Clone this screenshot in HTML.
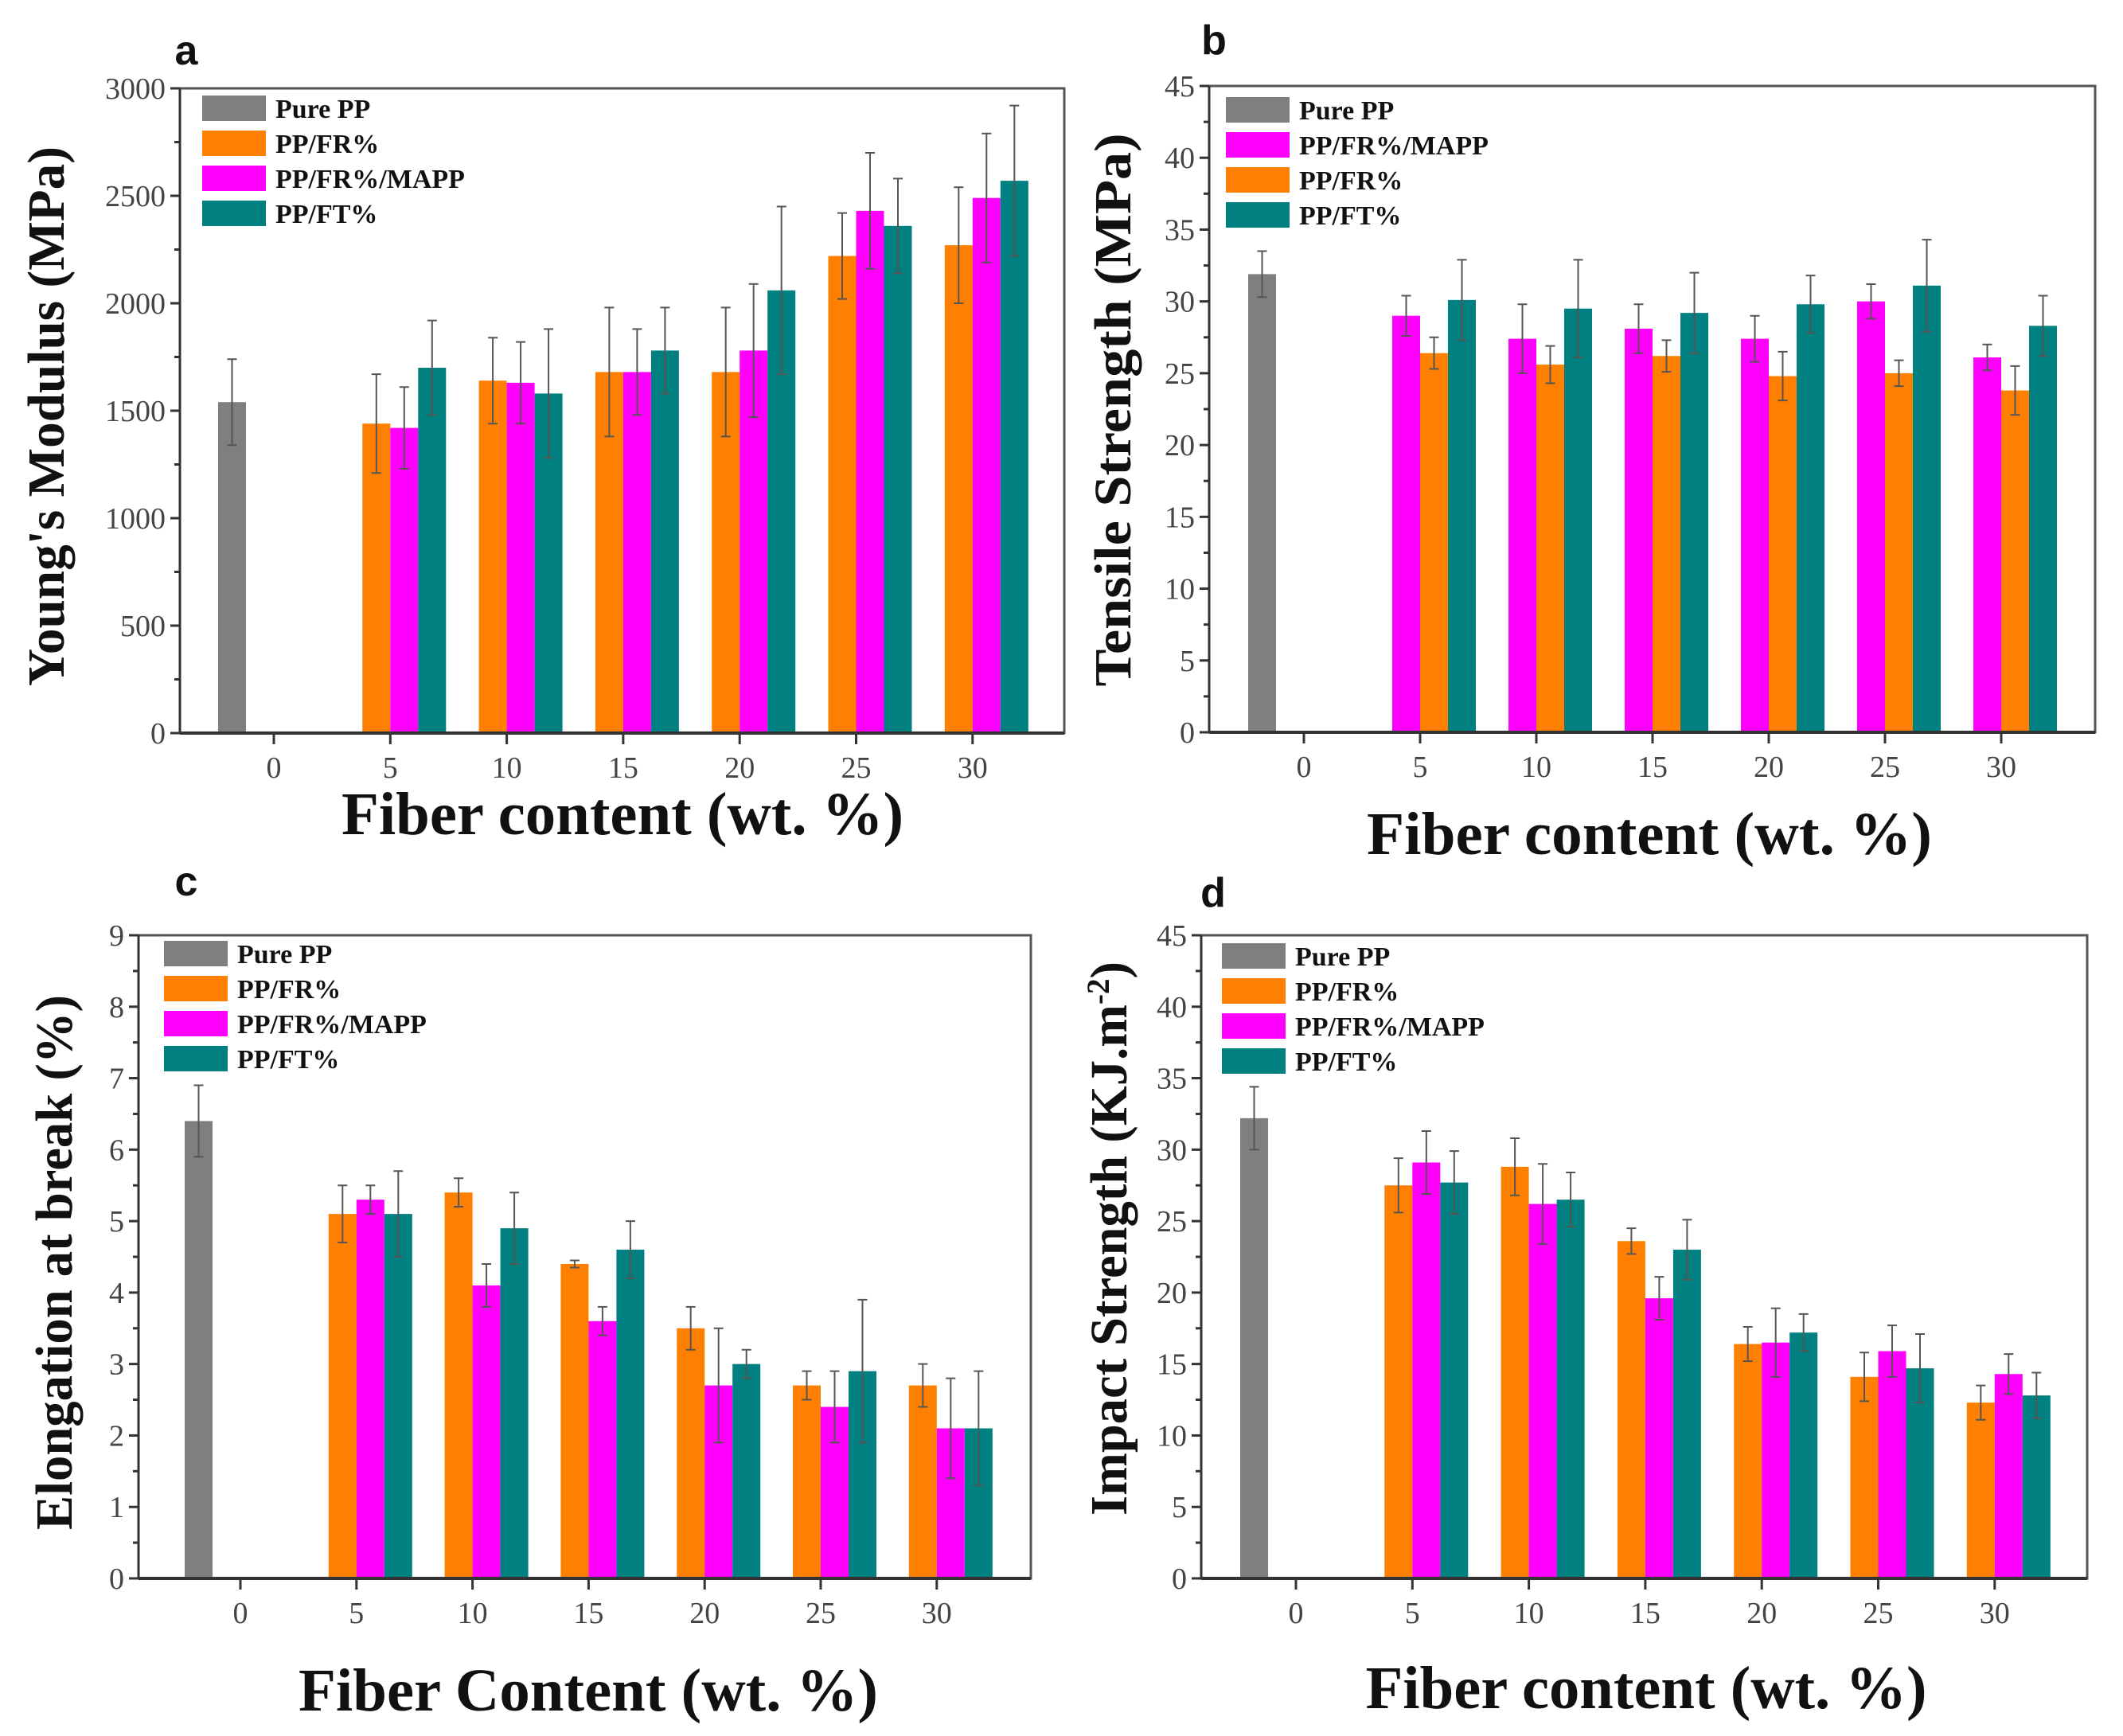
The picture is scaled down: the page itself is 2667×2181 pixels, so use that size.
<!DOCTYPE html>
<html><head><meta charset="utf-8">
<style>
html,body{margin:0;padding:0;background:#fff;}
svg{display:block;}
text{font-family:"Liberation Serif",serif;}
</style></head>
<body>
<svg id="fig" width="2667" height="2181" viewBox="0 0 2667 2181" xmlns="http://www.w3.org/2000/svg"></svg>
<script>
const categories = [0, 5, 10, 15, 20, 25, 30];
const seriesNames = ["Pure PP", "PP/FR%", "PP/FR%/MAPP", "PP/FT%"];
// Panel a: Young's modulus
const aPure = [1540]; const aPureErr = [200];
const aFR = [1440, 1640, 1680, 1680, 2220, 2270];
const aFRErr = [230, 200, 300, 300, 200, 270];
const aMAPP = [1420, 1630, 1680, 1780, 2430, 2490];
const aMAPPErr = [190, 190, 200, 310, 270, 300];
const aFT = [1700, 1580, 1780, 2060, 2360, 2570];
const aFTErr = [220, 300, 200, 390, 220, 350];
const aTicks = [0, 500, 1000, 1500, 2000, 2500, 3000];
// Panel b: tensile strength
const bPure = [31.9]; const bPureErr = [1.6];
const bMAPP = [29.0, 27.4, 28.1, 27.4, 30.0, 26.1];
const bMAPPErr = [1.4, 2.4, 1.7, 1.6, 1.2, 0.9];
const bFR = [26.4, 25.6, 26.2, 24.8, 25.0, 23.8];
const bFRErr = [1.1, 1.3, 1.1, 1.7, 0.9, 1.7];
const bFT = [30.1, 29.5, 29.2, 29.8, 31.1, 28.3];
const bFTErr = [2.8, 3.4, 2.8, 2.0, 3.2, 2.1];
const bTicks = [0, 5, 10, 15, 20, 25, 30, 35, 40, 45];
// Panel c: elongation
const cPure = [6.4]; const cPureErr = [0.5];
const cFR = [5.1, 5.4, 4.4, 3.5, 2.7, 2.7];
const cFRErr = [0.4, 0.2, 0.05, 0.3, 0.2, 0.3];
const cMAPP = [5.3, 4.1, 3.6, 2.7, 2.4, 2.1];
const cMAPPErr = [0.2, 0.3, 0.2, 0.8, 0.5, 0.7];
const cFT = [5.1, 4.9, 4.6, 3.0, 2.9, 2.1];
const cFTErr = [0.6, 0.5, 0.4, 0.2, 1.0, 0.8];
const cTicks = [0, 1, 2, 3, 4, 5, 6, 7, 8, 9];
// Panel d: impact strength
const dPure = [32.2]; const dPureErr = [2.2];
const dFR = [27.5, 28.8, 23.6, 16.4, 14.1, 12.3];
const dFRErr = [1.9, 2.0, 0.9, 1.2, 1.7, 1.2];
const dMAPP = [29.1, 26.2, 19.6, 16.5, 15.9, 14.3];
const dMAPPErr = [2.2, 2.8, 1.5, 2.4, 1.8, 1.4];
const dFT = [27.7, 26.5, 23.0, 17.2, 14.7, 12.8];
const dFTErr = [2.2, 1.9, 2.1, 1.3, 2.4, 1.6];
const dTicks = [0, 5, 10, 15, 20, 25, 30, 35, 40, 45];

const COL = {gray:"#7f7f7f", orange:"#ff8000", magenta:"#ff00ff", teal:"#008080"};
const NS = "http://www.w3.org/2000/svg";
const svg = document.getElementById('fig');
function mk(tag, attrs, parent) {
  const e = document.createElementNS(NS, tag);
  for (const k in attrs) e.setAttribute(k, attrs[k]);
  (parent || svg).appendChild(e);
  return e;
}

function panel(cfg) {
  const g = mk('g', {});
  
  
  const {L, R, T, B, t0, step, ymax} = cfg;
  const y = v => B - (v / ymax) * (B - T);
  const x = c => t0 + (c / 5) * step;
  const w = 35;
  const fr = mk('rect', {x:L, y:T, width:R-L, height:B-T, fill:'none', stroke:'#555', 'stroke-width':3}, g);
  
  
  for (let i = 0; i < cfg.ticks.length; i++) {
    const v = cfg.ticks[i];
    mk('line', {x1:L-12, x2:L, y1:y(v), y2:y(v), stroke:'#333', 'stroke-width':3}, g);
    const t = mk('text', {x:L-18, y:y(v)+13, 'text-anchor':'end', 'font-size':38, fill:'#444'}, g);
    t.textContent = v;
    
    
    if (i < cfg.ticks.length - 1) {
      const mv = (v + cfg.ticks[i+1]) / 2;
      mk('line', {x1:L-7, x2:L, y1:y(mv), y2:y(mv), stroke:'#333', 'stroke-width':3}, g);
    }
  }
  categories.forEach(c => {
    mk('line', {x1:x(c), x2:x(c), y1:B, y2:B+14, stroke:'#333', 'stroke-width':3}, g);
    const t = mk('text', {x:x(c), y:B+56, 'text-anchor':'middle', 'font-size':38, fill:'#444'}, g);
    t.textContent = c;
    
    
  });
  function bar(cat, slot, val, err, color, nm) {
    const cx = x(cat) + (slot - 1.5) * w;
    const r = mk('rect', {x:cx - w/2, y:y(val), width:w, height:B - y(val), fill:color}, g);
    
    
    const e = mk('path', {d:`M${cx},${y(val-err)}V${y(val+err)}M${cx-6},${y(val+err)}H${cx+6}M${cx-6},${y(val-err)}H${cx+6}`, stroke:'#555', 'stroke-width':2, fill:'none'}, g);
    
    
  }
  bar(0, 0, cfg.pure[0], cfg.pureErr[0], COL.gray, 'bar-pure-pp');
  cfg.series.forEach((s, si) => {
    s.vals.forEach((v, i) => bar(categories[i+1], si+1, v, s.errs[i], s.color, 'bar-' + s.key + '-' + categories[i+1]));
  });
  mk('line', {x1:L, x2:L, y1:T, y2:B, stroke:'#333', 'stroke-width':3}, g);
  mk('line', {x1:L, x2:R, y1:B, y2:B, stroke:'#333', 'stroke-width':4}, g);
  cfg.legend.forEach((it, i) => {
    const ly = cfg.legY + i * 44;
    const b = mk('rect', {x:cfg.legX, y:ly-16, width:80, height:32, fill:it[1]}, g);
    
    
    const t = mk('text', {x:cfg.legX+92, y:ly+12, 'font-size':34, 'font-weight':'bold', fill:'#111'}, g);
    t.textContent = it[0];
    
    
  });
  const yt = mk('text', {x:0, y:0, 'text-anchor':'middle', 'font-size':66, 'font-weight':'bold', fill:'#111',
    transform:`translate(${cfg.ytX},${cfg.ytY}) rotate(-90)`, textLength:cfg.ytLen, lengthAdjust:'spacingAndGlyphs'}, g);
  yt.textContent = cfg.ytitle;
  if (cfg.sup) { const s = mk('tspan', {'baseline-shift':'super', 'font-size':40}, yt); s.textContent = '-2'; const s2 = mk('tspan', {}, yt); s2.textContent = ')'; }
  
  
  const xt = mk('text', {x:cfg.xtX, y:cfg.xtY + 26, 'text-anchor':'middle', 'font-size':76, 'font-weight':'bold', fill:'#111',
    textLength:cfg.xtLen, lengthAdjust:'spacingAndGlyphs'}, g);
  xt.textContent = cfg.xtitle;
  
  
  const lt = mk('text', {x:cfg.letX, y:cfg.letY + 18, 'text-anchor':'middle', 'font-size':52, 'font-weight':'bold', fill:'#111', style:'font-family:"Liberation Sans",sans-serif'}, g);
  lt.textContent = cfg.letter;
  
  
}

panel({name:'panel-a-youngs-modulus', L:226, R:1337, T:111, B:921, t0:344, step:146.3, ymax:3000, ticks:aTicks,
  pure:aPure, pureErr:aPureErr,
  series:[{key:'fr', vals:aFR, errs:aFRErr, color:COL.orange},{key:'mapp', vals:aMAPP, errs:aMAPPErr, color:COL.magenta},{key:'ft', vals:aFT, errs:aFTErr, color:COL.teal}],
  legend:[["Pure PP",COL.gray],["PP/FR%",COL.orange],["PP/FR%/MAPP",COL.magenta],["PP/FT%",COL.teal]], legX:254, legY:136,
  ytitle:"Young's Modulus (MPa)", ytX:80, ytY:523, ytLen:678, xtitle:"Fiber content (wt. %)", xtX:782, xtY:1022, xtLen:706, letter:'a', letX:234, letY:63});

panel({name:'panel-b-tensile-strength', L:1519, R:2632, T:108, B:920, t0:1638, step:146, ymax:45, ticks:bTicks,
  pure:bPure, pureErr:bPureErr,
  series:[{key:'mapp', vals:bMAPP, errs:bMAPPErr, color:COL.magenta},{key:'fr', vals:bFR, errs:bFRErr, color:COL.orange},{key:'ft', vals:bFT, errs:bFTErr, color:COL.teal}],
  legend:[["Pure PP",COL.gray],["PP/FR%/MAPP",COL.magenta],["PP/FR%",COL.orange],["PP/FT%",COL.teal]], legX:1540, legY:138,
  ytitle:"Tensile Strength (MPa)", ytX:1420, ytY:515, ytLen:695, xtitle:"Fiber content (wt. %)", xtX:2072, xtY:1047, xtLen:710, letter:'b', letX:1525, letY:50});

panel({name:'panel-c-elongation', L:174, R:1295, T:1175, B:1983, t0:302, step:145.8, ymax:9, ticks:cTicks,
  pure:cPure, pureErr:cPureErr,
  series:[{key:'fr', vals:cFR, errs:cFRErr, color:COL.orange},{key:'mapp', vals:cMAPP, errs:cMAPPErr, color:COL.magenta},{key:'ft', vals:cFT, errs:cFTErr, color:COL.teal}],
  legend:[["Pure PP",COL.gray],["PP/FR%",COL.orange],["PP/FR%/MAPP",COL.magenta],["PP/FT%",COL.teal]], legX:206, legY:1198,
  ytitle:"Elongation at break (%)", ytX:90, ytY:1586, ytLen:672, xtitle:"Fiber Content (wt. %)", xtX:739, xtY:2123, xtLen:728, letter:'c', letX:234, letY:1107});

panel({name:'panel-d-impact-strength', L:1509, R:2622, T:1175, B:1983, t0:1628, step:146.3, ymax:45, ticks:dTicks,
  pure:dPure, pureErr:dPureErr,
  series:[{key:'fr', vals:dFR, errs:dFRErr, color:COL.orange},{key:'mapp', vals:dMAPP, errs:dMAPPErr, color:COL.magenta},{key:'ft', vals:dFT, errs:dFTErr, color:COL.teal}],
  legend:[["Pure PP",COL.gray],["PP/FR%",COL.orange],["PP/FR%/MAPP",COL.magenta],["PP/FT%",COL.teal]], legX:1535, legY:1201,
  ytitle:"Impact Strength (KJ.m", sup:true, ytX:1415, ytY:1556, ytLen:696, xtitle:"Fiber content (wt. %)", xtX:2068, xtY:2120, xtLen:705, letter:'d', letX:1524, letY:1121});
</script>
</body></html>
